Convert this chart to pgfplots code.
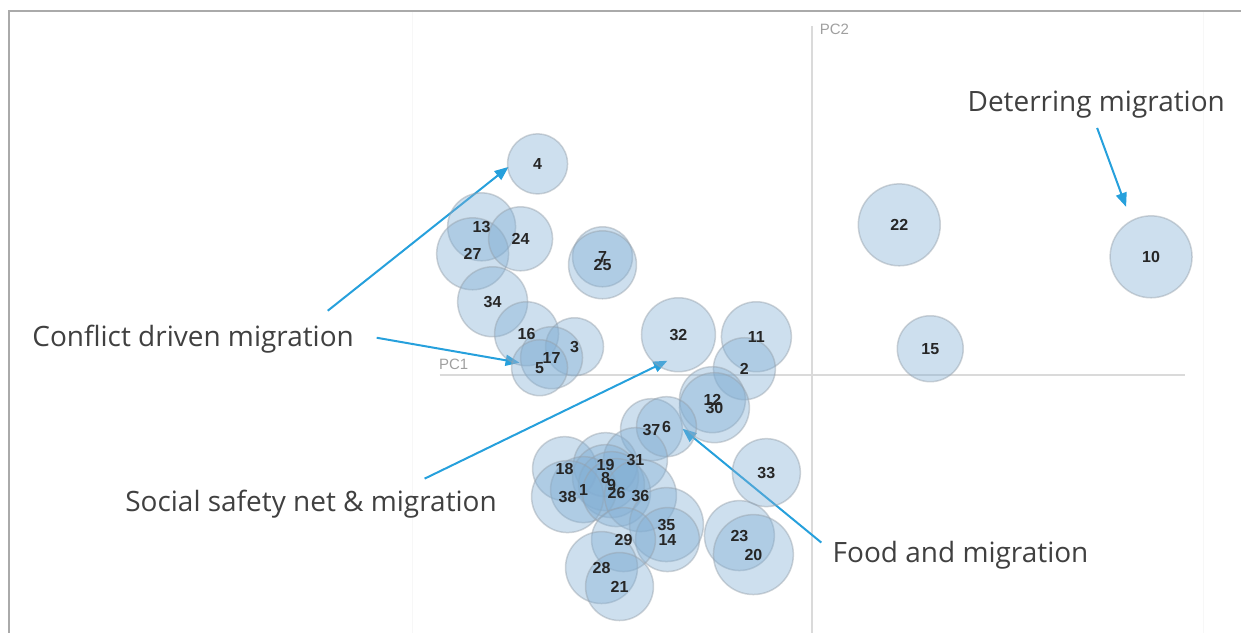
\documentclass[border=0pt]{standalone}
\usepackage{fontspec}
\setmainfont{Open Sans}
\newfontfamily\lab{Liberation Sans}
\usepackage{pgfplots}
\pgfplotsset{compat=1.18}
\usepackage{pgfplotstable}
\usetikzlibrary{arrows.meta}

\definecolor{bub}{RGB}{130,175,212}
\definecolor{bubedge}{RGB}{150,160,170}
\definecolor{arr}{RGB}{38,160,220}
\definecolor{txt}{RGB}{64,64,64}
\definecolor{axln}{RGB}{218,218,218}
\definecolor{frame}{RGB}{170,170,170}

% bubble centres and radii, in pixels of the picture
\pgfplotstableread{
id x y r
4 538 164 30
13 482 227 34
27 473 254 36
24 521 239 32
7 603 257 30
25 603 265 34
34 493 302 35
16 527 334 32
3 575 347 29
17 552 358 31
5 540 368 28
32 679 335 37
11 757 337 35
2 745 369 31
12 713 400 33
30 715 408 35
37 652 430 31
6 667 427 30
18 565 469 32
19 606 465 32
31 636 460 32
8 606 478 33
9 612 485 33
1 584 490 33
38 568 497 36
26 617 493 34
36 641 496 36
35 667 525 37
14 668 540 32
29 624 540 32
28 602 568 36
21 620 587 34
33 767 473 34
23 740 536 35
20 754 555 40
22 900 225 41
10 1152 257 41
15 931 349 33
}\bubbles

\begin{document}
\begin{tikzpicture}
\begin{axis}[
  scale only axis,
  width=621pt, height=316.5pt,
  xmin=0, xmax=1242, ymin=0, ymax=633,
  y dir=reverse,
  axis lines=none,
  clip=false,
]
% whole picture area, so the page has the reference's size
\path (axis cs:0,0) rectangle (axis cs:1242,633);
% frame and faint plot area
\draw[gray!6, line width=0.5pt] (axis cs:413,12) -- (axis cs:413,633);
\draw[gray!6, line width=0.5pt] (axis cs:1204,12) -- (axis cs:1204,633);
\draw[frame, line width=1pt] (axis cs:9,633) -- (axis cs:9,11) -- (axis cs:1242,11);

% PC axes
\draw[axln, line width=1pt] (axis cs:440,375) -- (axis cs:1186,375);
\draw[axln, line width=1pt] (axis cs:813,633) -- (axis cs:813,26);
\node[font=\lab\fontsize{7.5}{8}\selectfont, text=gray!75, inner sep=0pt] at (axis cs:454,365) {PC1};
\node[font=\lab\fontsize{7.5}{8}\selectfont, text=gray!75, inner sep=0pt] at (axis cs:835,29) {PC2};

% bubbles
\addplot[scatter, only marks, mark=*,
  visualization depends on={\thisrow{r} \as \rad},
  scatter/@pre marker code/.code={%
    \pgfmathsetmacro\rr{0.5*\rad}%
    \scope[mark size=\rr pt, fill=bub, draw=bubedge, fill opacity=0.4, draw opacity=0.45, line width=0.75pt]},
  scatter/@post marker code/.code={\endscope},
] table[x=x, y=y] {\bubbles};

% bubble labels
\addplot[only marks, mark=none,
  nodes near coords, point meta=explicit symbolic,
  nodes near coords style={anchor=center, inner sep=0pt,
    font=\lab\bfseries\fontsize{8}{9}\selectfont, text=black!85},
] table[x=x, y=y, meta=id] {\bubbles};

% annotations
\tikzset{note/.style={anchor=base west, inner sep=0pt, text=txt, font=\fontsize{14}{16}\selectfont},
  pointer/.style={arr, line width=1pt, -{Triangle[length=7pt, width=5.5pt]}}}
\node[note] at (axis cs:32,347) {Conflict driven migration};
\node[note] at (axis cs:125,512) {Social safety net \& migration};
\node[note] at (axis cs:833,563) {Food and migration};
\node[note] at (axis cs:968,112) {Deterring migration};

\draw[pointer] (axis cs:328,311) -- (axis cs:509,167);
\draw[pointer] (axis cs:377,338) -- (axis cs:520,363);
\draw[pointer] (axis cs:425,479) -- (axis cs:668,361);
\draw[pointer] (axis cs:822,543) -- (axis cs:683,429);
\draw[pointer] (axis cs:1098,128) -- (axis cs:1127,207);
\end{axis}
\end{tikzpicture}
\end{document}
